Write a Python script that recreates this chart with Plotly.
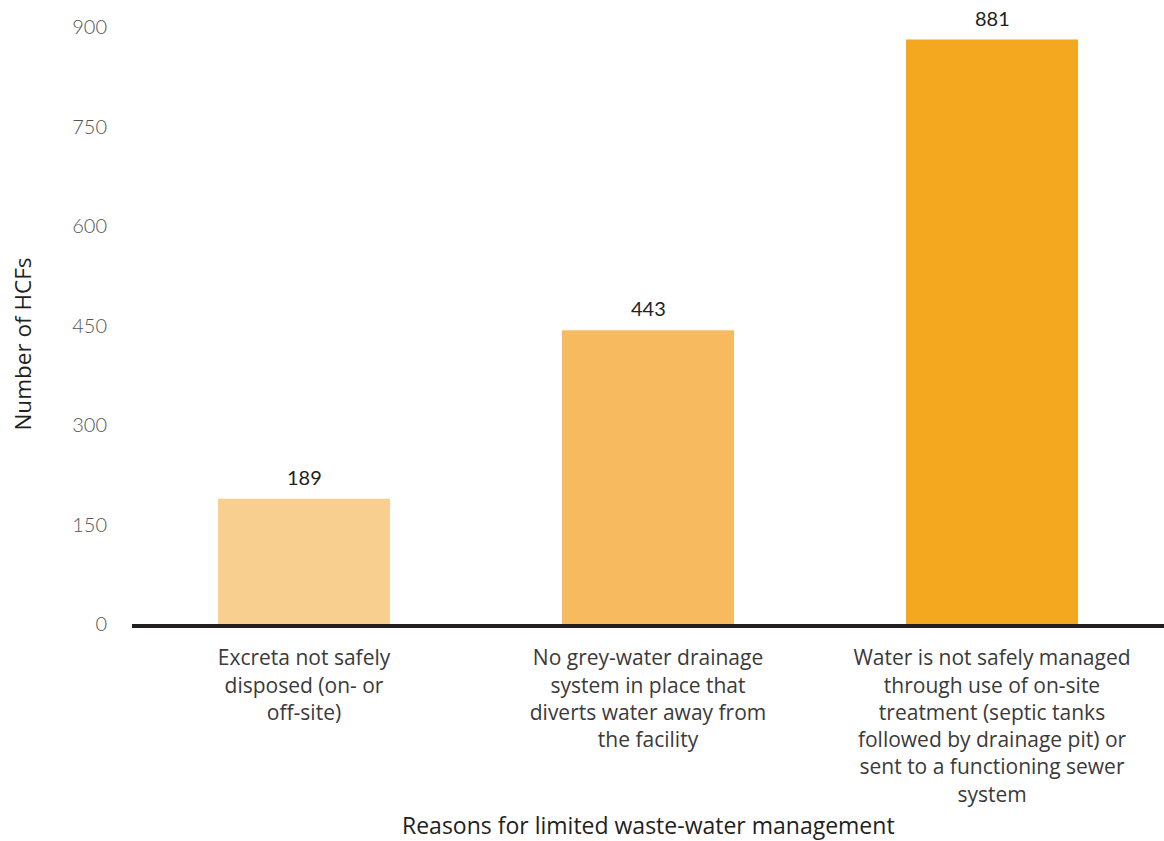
import plotly.graph_objects as go

# Data
categories = [
    "Excreta not safely<br>disposed (on- or<br>off-site)",
    "No grey-water drainage<br>system in place that<br>diverts water away from<br>the facility",
    "Water is not safely managed<br>through use of on-site<br>treatment (septic tanks<br>followed by drainage pit) or<br>sent to a functioning sewer<br>system",
]
counts = [189, 443, 881]
bar_colors = ["#F9CF8F", "#F7BA5E", "#F4A81F"]
y_ticks = [0, 150, 300, 450, 600, 750, 900]

LABEL_FONT = "Open Sans"
NUM_FONT = "Lato"

fig = go.Figure(
    go.Bar(
        x=categories,
        y=counts,
        marker=dict(color=bar_colors, line=dict(width=0)),
        cliponaxis=False,
    )
)

# Value labels above each bar
for cat, v in zip(categories, counts):
    fig.add_annotation(
        x=cat, y=v, text=str(v), showarrow=False,
        yanchor="bottom", yshift=8,
        font=dict(family=NUM_FONT, size=20, color="#231F20"),
    )

# Axis titles
fig.add_annotation(
    xref="paper", yref="paper", x=0.5, y=-0.337, xanchor="center", yanchor="middle",
    text="Reasons for limited waste-water management", showarrow=False,
    font=dict(family=LABEL_FONT, size=23, color="#231F20"),
)
fig.add_annotation(
    xref="paper", yref="paper", x=-0.107, y=0.469, xanchor="center", yanchor="middle",
    text="Number of HCFs", showarrow=False, textangle=-90,
    font=dict(family=LABEL_FONT, size=22.5, color="#231F20"),
)

fig.update_layout(
    width=1164,
    height=841,
    margin=dict(l=132, r=0, t=27, b=217),
    plot_bgcolor="white",
    paper_bgcolor="white",
    bargap=0.5,
    showlegend=False,
    font=dict(family=LABEL_FONT, size=20, color="#444444"),
)

fig.update_xaxes(
    showline=True,
    linecolor="#231F20",
    linewidth=4,
    showgrid=False,
    ticks="",
    tickfont=dict(family=LABEL_FONT, size=21, color="#3A3A3A"),
    ticklabelstandoff=12,
    automargin=False,
)

fig.update_yaxes(
    range=[0, 900],
    tickvals=y_ticks,
    showline=False,
    showgrid=False,
    zeroline=False,
    ticks="",
    tickfont=dict(family=NUM_FONT, size=20, color="#555555", weight=300),
    ticklabelstandoff=24,
    automargin=False,
)

fig.write_html("out.html")
